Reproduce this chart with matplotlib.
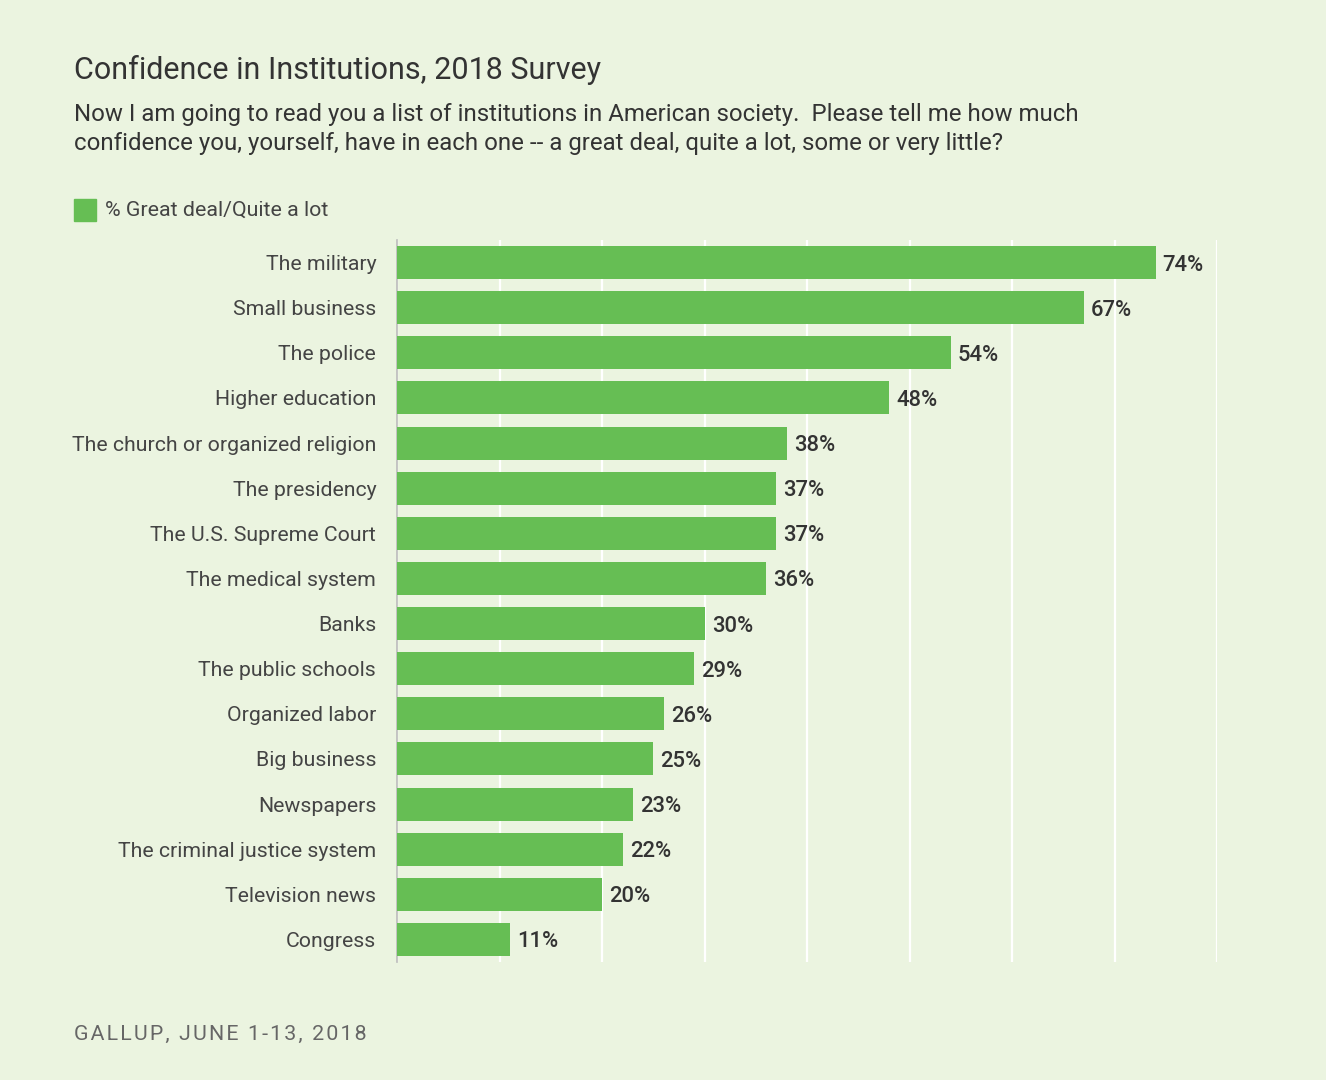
import matplotlib
matplotlib.use("Agg")
import matplotlib.pyplot as plt
from matplotlib.patches import Rectangle

categories = ["The military", "Small business", "The police", "Higher education",
              "The church or organized religion", "The presidency", "The U.S. Supreme Court",
              "The medical system", "Banks", "The public schools", "Organized labor",
              "Big business", "Newspapers", "The criminal justice system",
              "Television news", "Congress"]
values = [74, 67, 54, 48, 38, 37, 37, 36, 30, 29, 26, 25, 23, 22, 20, 11]
xticks = [0, 10, 20, 30, 40, 50, 60, 70, 80]

BG = "#EBF4E0"
GREEN = "#66BE54"
TXT = "#333333"
LBL = "#444444"

plt.rcParams['font.family'] = ['Roboto', 'DejaVu Sans']

fig = plt.figure(figsize=(13.26, 10.8), dpi=100, facecolor=BG)
ax = fig.add_axes([397/1326, 1-962/1080, 820/1326, (962-240)/1080])
ax.set_facecolor(BG)

y = list(range(len(categories)))
ax.barh(y, values, height=0.73, color=GREEN, zorder=3)
for yi, v in zip(y, values):
    ax.text(v + 0.7, yi, f"{v}%", va="center_baseline", ha="left", fontsize=15.8,
            color=TXT, zorder=4, fontweight="medium")

ax.set_xlim(0, 80)
ax.set_ylim(len(categories) - 0.5, -0.5)
ax.set_xticks(xticks)
ax.xaxis.grid(True, color="white", linewidth=1.6, zorder=1)
ax.set_axisbelow(True)
ax.tick_params(axis="x", length=0, labelbottom=False)
ax.tick_params(axis="y", length=0, pad=15)
ax.set_yticks(y)
ax.set_yticklabels(categories, fontsize=15.3, color=LBL, va="center_baseline")
for s in ["top", "right", "bottom"]:
    ax.spines[s].set_visible(False)
ax.spines["left"].set_color("#BBBBBB")
ax.spines["left"].set_linewidth(1.2)

fig.text(74/1326, 1-70/1080, "Confidence in Institutions, 2018 Survey", fontsize=22,
         color=TXT, va="center", ha="left")
fig.text(74/1326, 1-129/1080,
         "Now I am going to read you a list of institutions in American society.  Please tell me how much\n"
         "confidence you, yourself, have in each one -- a great deal, quite a lot, some or very little?",
         fontsize=17.3, color=TXT, va="center", ha="left", linespacing=1.36)

fig.patches.append(Rectangle((74/1326, 1-221/1080), 22/1326, 22/1080,
                             transform=fig.transFigure, color=GREEN))
fig.text(105/1326, 1-210/1080, "% Great deal/Quite a lot", fontsize=15.4, color=LBL,
         va="center", ha="left")

footer = "GALLUP, JUNE 1-13, 2018"
fig.text(74/1326, 1-1034/1080, "\u200a".join(footer),
         fontsize=15.4, color="#666666", va="center", ha="left")

fig.savefig("out.png", dpi=100, facecolor=BG)
